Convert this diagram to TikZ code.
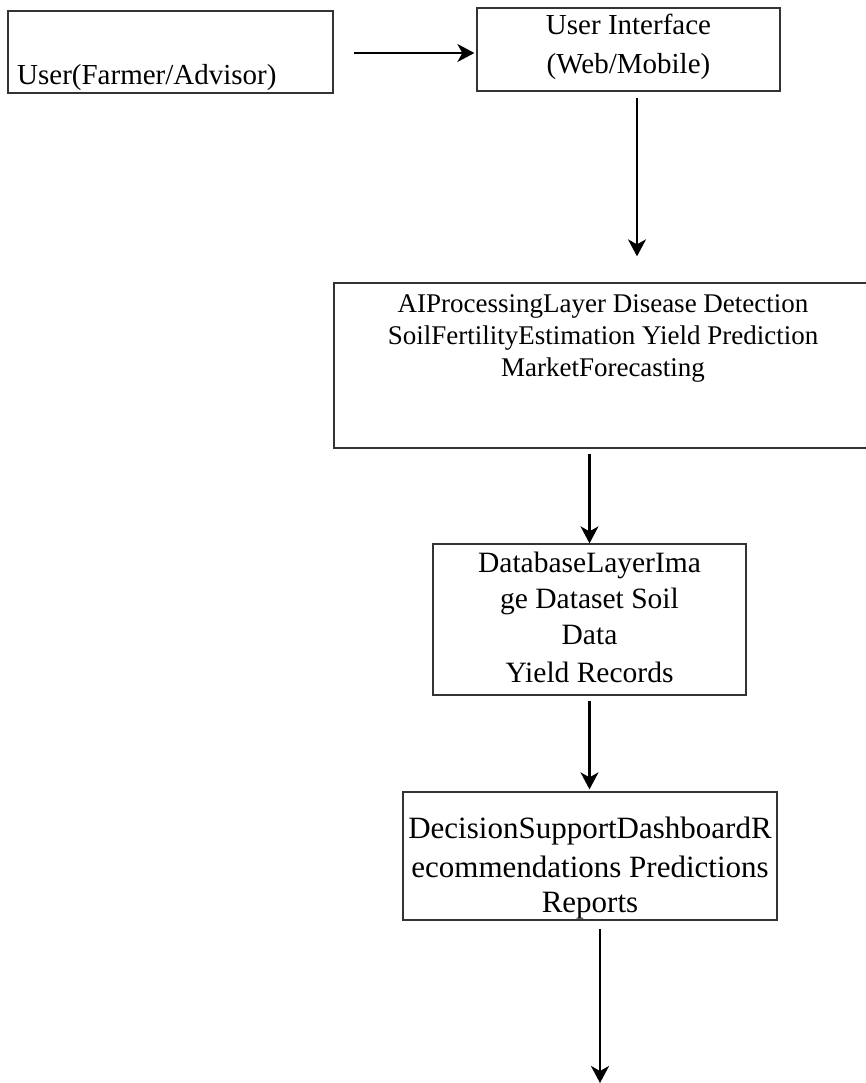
\documentclass[tikz,border=0pt]{standalone}
\usepackage{fontspec}
\setmainfont{Liberation Serif}
\usetikzlibrary{arrows.meta}
\begin{document}
\begin{tikzpicture}[x=1pt,y=-1pt,
  box/.style={draw=black!80, line width=1.3pt, inner sep=0pt, fill=none},
  conn/.style={draw=black, line width=2.2pt, -{Stealth[length=17pt,width=18pt,inset=5pt]}},
  txa/.style={anchor=base, inner sep=0pt, font=\fontsize{29pt}{35pt}\selectfont},
  txb/.style={anchor=base, inner sep=0pt, font=\fontsize{27pt}{33pt}\selectfont},
  txc/.style={anchor=base, inner sep=0pt, font=\fontsize{29.5pt}{35pt}\selectfont},
  txd/.style={anchor=base, inner sep=0pt, font=\fontsize{31pt}{36pt}\selectfont}]
\useasboundingbox (0,0) rectangle (866,1083);
\fill[white] (0,0) rectangle (866,1083);
% boxes
\node[box, minimum width=325pt, minimum height=82pt] (b1) at (170.5,52) {};
\node[box, minimum width=303pt, minimum height=83pt] (b2) at (628.5,49.5) {};
\node[box, minimum width=538pt, minimum height=165pt] (b3) at (603,365.5) {};
\node[box, minimum width=313pt, minimum height=151pt] (b4) at (589.5,619.5) {};
\node[box, minimum width=374pt, minimum height=128pt] (b5) at (590,856) {};
% texts
\node[txa, anchor=base west] (t1) at (17,85) {User(Farmer/Advisor)};
\node[txa] (t2a) at (628.5,35) {User Interface};
\node[txa] (t2b) at (628.5,74) {(Web/Mobile)};
\node[txb] (t3a) at (603,312) {AIProcessingLayer Disease Detection};
\node[txb] (t3b) at (603,344) {SoilFertilityEstimation Yield Prediction};
\node[txb] (t3c) at (603,376) {MarketForecasting};
\node[txc] (t4a) at (589.5,572) {DatabaseLayerIma};
\node[txc] (t4b) at (589.5,608) {ge Dataset Soil};
\node[txc] (t4c) at (589.5,644) {Data};
\node[txc] (t4d) at (589.5,682) {Yield Records};
\node[txd] (t5a) at (590,838) {DecisionSupportDashboardR};
\node[txd] (t5b) at (590,877) {ecommendations Predictions};
\node[txd] (t5c) at (590,912) {Reports};
% connectors
\coordinate (e5) at (600,1083);
\draw[conn, shorten <=20pt, shorten >=2pt] ([yshift=-1pt]b1.east) -- ([yshift=-1pt]b1.east -| b2.west);
\draw[conn, shorten <=6pt, shorten >=26pt] ([xshift=8.5pt]b2.south) -- ([xshift=8.5pt]b2.south |- b3.north);
\draw[conn, shorten <=5pt] (b4.north |- b3.south) -- (b4.north);
\draw[conn, shorten <=5pt, shorten >=2pt] (b4.south) -- (b4.south |- b5.north);
\draw[conn, shorten <=8pt] ([xshift=10pt]b5.south) -- (e5);
\end{tikzpicture}
\end{document}
